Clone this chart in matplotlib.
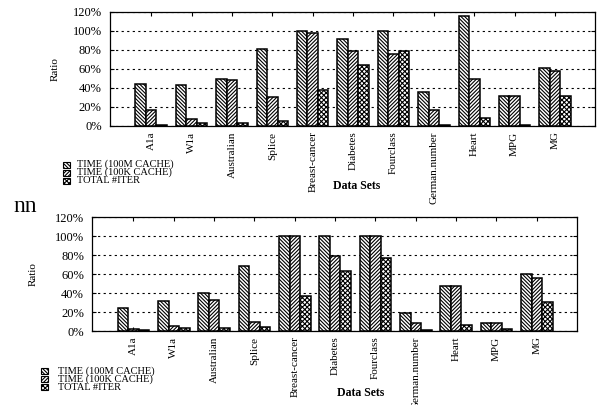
import matplotlib
matplotlib.use("Agg")
import matplotlib.pyplot as plt
from matplotlib.patches import Rectangle
import numpy as np

categories = ['A1a', 'W1a', 'Australian', 'Splice', 'Breast-cancer', 'Diabetes',
              'Fourclass', 'German.number', 'Heart', 'MPG', 'MG']
series_labels = ['TIME (100M CACHE)', 'TIME (100K CACHE)', 'TOTAL #ITER']

top_100m = [44, 43, 49, 81, 100, 91, 100, 36, 115, 31, 61]
top_100k = [17, 7, 48, 30, 98, 79, 76, 17, 49, 31, 58]
top_iter = [1.5, 3.5, 3.5, 5, 38, 64, 79, 1, 8, 1, 31]

bot_100m = [24, 32, 40, 69, 100, 100, 100, 19, 48, 8.5, 60]
bot_100k = [2.5, 5, 33, 9, 100, 79, 100, 8, 48, 8.5, 55.5]
bot_iter = [1, 3, 3, 4.5, 37, 63, 77.5, 1, 6, 2, 30.5]

yticks = [0, 20, 40, 60, 80, 100, 120]

plt.rcParams['font.family'] = ['Liberation Serif', 'DejaVu Serif']
plt.rcParams['hatch.linewidth'] = 0.8

W, H = 601, 405
fig = plt.figure(figsize=(W / 100, H / 100), dpi=100)

hatches = ['\\' * 9, '/' * 9, 'x' * 7]


def fpx(x, y):
    return x / W, 1 - y / H


def draw(ax, vals, ylab_xy, xlab_xy):
    x = np.arange(len(categories))
    bw = 0.26
    for i, v in enumerate(vals):
        ax.bar(x + (i - 1) * bw, v, width=bw, facecolor='white', edgecolor='black',
               linewidth=1.1, hatch=hatches[i], zorder=3)
    ax.set_xlim(-1.02, 10.99)
    ax.set_ylim(0, 120)
    ax.set_yticks(yticks)
    ax.set_yticklabels(['%d%%' % t for t in yticks], fontsize=9)
    ax.set_xticks(x)
    ax.set_xticklabels(categories, rotation=90, fontsize=8, ha='center', va='top')
    ax.tick_params(direction='in', top=True, right=True, length=3, width=0.8)
    ax.tick_params(axis='x', pad=4)
    ax.tick_params(axis='y', pad=6)
    ax.yaxis.grid(True, linestyle=(0, (2, 3)), color='black', linewidth=0.8)
    ax.set_axisbelow(True)
    for s in ax.spines.values():
        s.set_linewidth(0.9)
    ax.set_ylabel('Ratio', fontsize=8)
    ax.yaxis.set_label_coords(*ylab_xy)
    ax.set_xlabel('Data Sets', fontsize=8.5, fontweight='bold')
    ax.xaxis.set_label_coords(*xlab_xy)


# top chart
ax1 = fig.add_axes([110 / W, 1 - 126 / H, (595 - 110) / W, (126 - 11.6) / H])
draw(ax1, [top_100m, top_100k, top_iter], (-0.103, 0.5), (0.509, -0.47))

# bottom chart
ax2 = fig.add_axes([92.3 / W, 1 - 331 / H, (576.7 - 92.3) / W, (331 - 217.3) / H])
draw(ax2, [bot_100m, bot_100k, bot_iter], (-0.112, 0.5), (0.553, -0.49))


def legend(px, tx, rows):
    for i, (lab, yc) in enumerate(zip(series_labels, rows)):
        x0, y0 = fpx(px, yc + 3)
        r = Rectangle((x0, y0), 7 / W, 6 / H, transform=fig.transFigure,
                      facecolor='white', edgecolor='black', linewidth=0.8,
                      hatch=hatches[i])
        fig.add_artist(r)
        fig.text(*fpx(tx, yc), lab, fontsize=7.5, va='center', ha='left')


legend(63, 77, [164.5, 172.5, 180.5])
legend(41, 58, [371, 379, 387])

fig.text(*fpx(13, 212), 'nn', fontsize=17, va='baseline', ha='left')

fig.savefig('out.png', dpi=100)
